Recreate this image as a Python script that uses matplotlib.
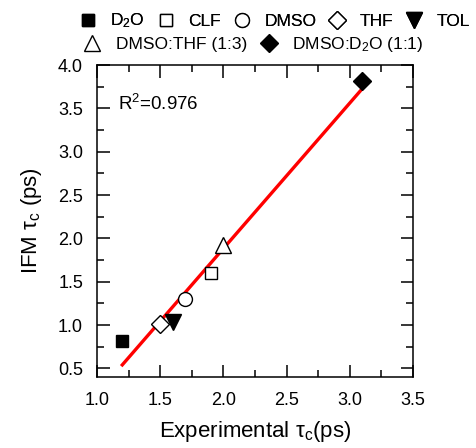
import numpy as np
import matplotlib.pyplot as plt

plt.rcParams['font.family'] = ['Liberation Sans', 'DejaVu Sans']
plt.rcParams['mathtext.fontset'] = 'custom'
plt.rcParams['mathtext.rm'] = 'Liberation Sans'
plt.rcParams['mathtext.it'] = 'Liberation Sans:italic'

# ---- datos ----
names = ['D$_\\mathregular{2}$O', 'CLF', 'DMSO', 'THF', 'TOL',
         'DMSO:THF (1:3)', 'DMSO:D$_\\mathregular{2}$O (1:1)']
exp_tau = [1.2, 1.9, 1.7, 1.5, 1.6, 2.0, 3.1]
ifm_tau = [0.82, 1.60, 1.30, 1.01, 1.03, 1.92, 3.82]
markers = ['s', 's', 'o', 'D', 'v', '^', 'D']
filled = [True, False, False, False, True, False, True]
sizes = [9, 9, 10, 9.3, 11, 11, 9.3]
r2_text = 'R$^\\mathregular{2}$=0.976'

fig = plt.figure(figsize=(4.76, 4.48), dpi=100)
ax = fig.add_axes([97/476, 1-377/448, (413-97)/476, (377-65)/448])

handles = []
for x, y, m, f, s, n in zip(exp_tau, ifm_tau, markers, filled, sizes, names):
    h, = ax.plot(x, y, linestyle='none', marker=m, markersize=s,
                 markerfacecolor='black' if f else 'white',
                 markeredgecolor='black', markeredgewidth=1.0, label=n, zorder=3)
    handles.append(h)

# recta de ajuste
p = np.polyfit(exp_tau, ifm_tau, 1)
xf = np.array([min(exp_tau), max(exp_tau)])
ax.plot(xf, np.polyval(p, xf), color='red', lw=2.4, zorder=2)

ax.text(1.17, 3.55, r2_text, fontsize=13.5, va='center')

ax.set_xlim(1.0, 3.5)
ax.set_ylim(0.4, 4.0)
ax.set_xticks(np.arange(1.0, 3.51, 0.5))
ax.set_yticks(np.arange(0.5, 4.01, 0.5))
ax.set_xticks(np.arange(1.25, 3.5, 0.5), minor=True)
ax.set_yticks(np.arange(0.75, 4.0, 0.5), minor=True)
ax.xaxis.set_major_formatter(plt.FormatStrFormatter('%.1f'))
ax.yaxis.set_major_formatter(plt.FormatStrFormatter('%.1f'))
ax.tick_params(which='both', direction='in', top=True, right=True, width=1.1, labelsize=13)
ax.tick_params(which='major', length=9)
ax.tick_params(which='minor', length=4.7)
ax.tick_params(axis='x', pad=11)
ax.tick_params(axis='y', pad=10)
for sp in ax.spines.values():
    sp.set_linewidth(1.1)

ax.set_xlabel('Experimental τ$_\\mathregular{c}$(ps)', fontsize=16, labelpad=7)
ax.set_ylabel('IFM τ$_\\mathregular{c}$ (ps)', fontsize=16, labelpad=10)

leg_kw = dict(loc='center left', frameon=False, fontsize=12.5, handlelength=1.0,
              borderpad=0.4, borderaxespad=0, bbox_transform=fig.transFigure)
leg1 = fig.legend(handles[:5], names[:5], ncol=5, columnspacing=0.7,
                  handletextpad=0.8, bbox_to_anchor=(72/476, 1-21/448), **leg_kw)
leg2 = fig.legend(handles[5:], names[5:], ncol=2, columnspacing=0.75,
                  handletextpad=0.88, bbox_to_anchor=(76/476, 1-45/448), **leg_kw)
fig.add_artist(leg1)

fig.savefig('out.png', dpi=100)
